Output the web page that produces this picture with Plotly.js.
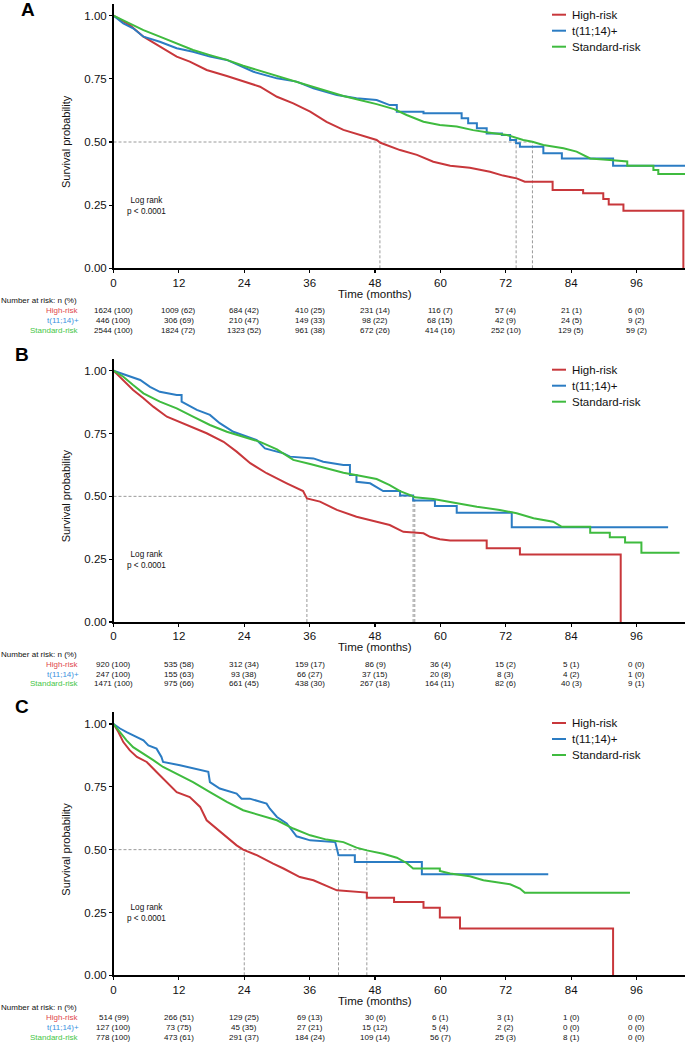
<!DOCTYPE html>
<html><head><meta charset="utf-8">
<script src="https://cdn.plot.ly/plotly-3.0.1.min.js"></script>
<style>html,body{margin:0;padding:0;background:#fff}#chart{width:685px;height:1043px}</style>
</head><body><div id="chart"></div>
<script>
// ---------------- DATA ----------------
const groups = ["High-risk", "t(11;14)+", "Standard-risk"];
const panelLetters = ["A", "B", "C"];
const timeTicks = [0, 12, 24, 36, 48, 60, 72, 84, 96];
const yTicks = [0, 0.25, 0.5, 0.75, 1];
const yTickText = ["0.00", "0.25", "0.50", "0.75", "1.00"];
const xTitle = "Time (months)";
const yTitle = "Survival probability";
const riskHeader = "Number at risk: n (%)";
const logRankText = "Log rank<br>p &lt; 0.0001";

// Panel A
const A_high_t = [0, 3.0, 5.5, 8.5, 11.6, 14.0, 17.1, 20.8, 23.8, 26.9, 30.0, 33.0, 36.1, 39.1, 42.2, 45.2, 48.3, 49.0, 52.6, 55.7, 58.7, 61.8, 65.4, 69.1, 71.5, 74.0, 75.5, 80.6, 80.6, 86.2, 86.2, 89.9, 89.9, 90.9, 90.9, 93.6, 93.6, 104.6, 104.6];
const A_high_s = [1.0, 0.963, 0.917, 0.877, 0.838, 0.818, 0.785, 0.761, 0.739, 0.719, 0.679, 0.653, 0.620, 0.580, 0.548, 0.528, 0.508, 0.497, 0.468, 0.449, 0.422, 0.406, 0.398, 0.382, 0.367, 0.356, 0.343, 0.343, 0.310, 0.310, 0.297, 0.297, 0.274, 0.274, 0.253, 0.253, 0.228, 0.228, 0];
const A_t1114_t = [0, 1.8, 3.6, 5.5, 8.5, 11.6, 14.6, 17.7, 20.8, 23.8, 25.7, 30.0, 33.6, 36.7, 41.0, 44.6, 48.3, 50.7, 52.0, 52.0, 56.9, 56.9, 63.9, 63.9, 65.1, 65.1, 66.7, 66.7, 68.5, 68.5, 71.3, 71.3, 72.8, 72.8, 73.9, 73.9, 74.6, 74.6, 78.9, 78.9, 82.3, 82.3, 91.7, 91.7, 104.9];
const A_t1114_s = [1.0, 0.970, 0.950, 0.917, 0.897, 0.871, 0.857, 0.838, 0.825, 0.798, 0.778, 0.752, 0.739, 0.713, 0.686, 0.673, 0.666, 0.646, 0.646, 0.620, 0.620, 0.614, 0.614, 0.594, 0.594, 0.574, 0.574, 0.554, 0.554, 0.534, 0.534, 0.528, 0.528, 0.508, 0.508, 0.495, 0.495, 0.481, 0.481, 0.455, 0.455, 0.435, 0.435, 0.406, 0.406];
const A_std_t = [0, 2.4, 5.5, 8.5, 11.6, 14.6, 17.7, 20.8, 23.8, 26.9, 30.0, 33.0, 36.1, 39.1, 42.2, 45.2, 48.3, 51.5, 53.8, 56.9, 59.9, 63.0, 66.0, 69.1, 72.2, 75.2, 76.9, 78.9, 82.6, 85.0, 87.5, 91.1, 94.3, 94.3, 99.1, 99.1, 100.0, 100.0, 104.9];
const A_std_s = [1.0, 0.976, 0.943, 0.917, 0.891, 0.864, 0.844, 0.825, 0.802, 0.782, 0.761, 0.743, 0.722, 0.703, 0.682, 0.666, 0.650, 0.630, 0.607, 0.580, 0.567, 0.561, 0.547, 0.537, 0.528, 0.508, 0.501, 0.488, 0.475, 0.462, 0.435, 0.429, 0.423, 0.406, 0.406, 0.389, 0.389, 0.373, 0.373];
const A_median = [48.9, 73.9, 76.9];
const A_high_n = [1624, 1009, 684, 410, 231, 116, 57, 21, 6];
const A_high_pct = [100, 62, 42, 25, 14, 7, 4, 1, 0];
const A_t1114_n = [446, 306, 210, 149, 98, 68, 42, 24, 9];
const A_t1114_pct = [100, 69, 47, 33, 22, 15, 9, 5, 2];
const A_std_n = [2544, 1824, 1323, 961, 672, 414, 252, 129, 59];
const A_std_pct = [100, 72, 52, 38, 26, 16, 10, 5, 2];

// Panel B
const B_high_t = [0, 1.8, 3.6, 5.5, 7.3, 9.8, 13.4, 17.1, 20.2, 22.6, 25.1, 28.1, 31.8, 34.8, 35.5, 37.9, 41.0, 44.6, 48.3, 50.7, 53.2, 56.9, 58.1, 59.9, 61.8, 68.5, 68.5, 74.6, 74.6, 93.1, 93.1];
const B_high_s = [1.0, 0.963, 0.923, 0.890, 0.857, 0.817, 0.784, 0.751, 0.717, 0.678, 0.632, 0.592, 0.552, 0.521, 0.492, 0.479, 0.446, 0.419, 0.399, 0.386, 0.359, 0.353, 0.339, 0.329, 0.324, 0.324, 0.293, 0.293, 0.269, 0.269, 0];
const B_t1114_t = [0, 2.4, 4.9, 6.7, 8.5, 11.6, 12.5, 12.5, 15.3, 17.7, 19.5, 22.0, 24.4, 26.3, 27.8, 31.2, 32.4, 36.7, 38.5, 42.2, 43.4, 43.4, 44.6, 44.6, 47.1, 49.5, 52.6, 52.6, 55.0, 55.0, 59.0, 59.0, 63.0, 63.0, 73.1, 73.1, 101.8];
const B_t1114_s = [1.0, 0.983, 0.963, 0.936, 0.916, 0.903, 0.903, 0.877, 0.844, 0.824, 0.791, 0.757, 0.737, 0.724, 0.691, 0.671, 0.658, 0.651, 0.638, 0.625, 0.625, 0.585, 0.585, 0.558, 0.552, 0.521, 0.521, 0.503, 0.503, 0.483, 0.483, 0.462, 0.462, 0.435, 0.435, 0.377, 0.377];
const B_std_t = [0, 1.8, 3.6, 5.5, 8.5, 11.6, 14.6, 17.7, 20.8, 23.8, 26.9, 30.0, 33.0, 36.1, 39.1, 42.2, 45.2, 48.3, 50.7, 52.6, 54.7, 55.3, 58.7, 63.0, 66.7, 70.9, 74.0, 77.1, 80.7, 82.3, 87.5, 87.5, 91.1, 91.1, 93.9, 93.9, 96.9, 96.9, 103.9];
const B_std_s = [1.0, 0.976, 0.943, 0.910, 0.877, 0.850, 0.817, 0.784, 0.757, 0.737, 0.717, 0.687, 0.645, 0.629, 0.612, 0.594, 0.582, 0.569, 0.545, 0.521, 0.503, 0.496, 0.489, 0.472, 0.459, 0.446, 0.433, 0.413, 0.399, 0.379, 0.379, 0.355, 0.355, 0.337, 0.337, 0.316, 0.316, 0.276, 0.276];
const B_median = [35.5, 55.0, 55.3];
const B_high_n = [920, 535, 312, 159, 86, 36, 15, 5, 0];
const B_high_pct = [100, 58, 34, 17, 9, 4, 2, 1, 0];
const B_t1114_n = [247, 155, 93, 66, 37, 20, 8, 4, 1];
const B_t1114_pct = [100, 63, 38, 27, 15, 8, 3, 2, 0];
const B_std_n = [1471, 975, 661, 438, 267, 164, 82, 40, 9];
const B_std_pct = [100, 66, 45, 30, 18, 11, 6, 3, 1];

// Panel C
const C_high_t = [0, 0.9, 1.8, 3.0, 4.3, 6.1, 7.9, 9.8, 11.6, 14.0, 15.9, 17.1, 18.9, 20.8, 22.6, 23.8, 26.3, 29.3, 31.2, 34.2, 36.7, 41.0, 46.5, 46.5, 51.5, 51.5, 56.9, 56.9, 59.9, 59.9, 63.6, 63.6, 91.7, 91.7];
const C_high_s = [1.0, 0.968, 0.928, 0.895, 0.869, 0.849, 0.809, 0.769, 0.729, 0.709, 0.670, 0.617, 0.584, 0.550, 0.517, 0.500, 0.478, 0.444, 0.425, 0.391, 0.378, 0.338, 0.329, 0.309, 0.309, 0.292, 0.292, 0.269, 0.269, 0.230, 0.230, 0.186, 0.186, 0];
const C_t1114_t = [0, 1.2, 2.4, 3.6, 5.5, 6.4, 7.9, 8.8, 9.1, 12.2, 15.3, 17.4, 17.7, 19.5, 22.6, 23.5, 25.0, 28.1, 28.7, 30.0, 31.8, 32.7, 33.6, 36.1, 40.7, 41.3, 44.3, 44.3, 56.6, 56.6, 79.8];
const C_t1114_s = [1.0, 0.982, 0.968, 0.955, 0.935, 0.915, 0.902, 0.869, 0.849, 0.836, 0.822, 0.810, 0.769, 0.743, 0.723, 0.703, 0.703, 0.683, 0.663, 0.630, 0.604, 0.577, 0.553, 0.537, 0.530, 0.478, 0.478, 0.451, 0.451, 0.402, 0.402];
const C_std_t = [0, 1.2, 2.4, 3.6, 5.5, 7.3, 9.1, 11.6, 14.6, 17.7, 20.8, 23.8, 26.9, 30.0, 33.0, 36.1, 39.1, 42.2, 44.6, 46.5, 49.5, 52.0, 53.8, 55.0, 59.9, 59.9, 61.8, 65.4, 67.9, 72.8, 74.6, 75.5, 94.8];
const C_std_s = [1.0, 0.968, 0.935, 0.908, 0.882, 0.856, 0.829, 0.803, 0.769, 0.729, 0.690, 0.657, 0.637, 0.617, 0.584, 0.557, 0.540, 0.530, 0.508, 0.497, 0.484, 0.468, 0.447, 0.425, 0.425, 0.415, 0.405, 0.394, 0.378, 0.362, 0.345, 0.328, 0.328];
const C_median = [24.0, 41.3, 46.5];
const C_high_n = [514, 266, 129, 69, 30, 6, 3, 1, 0];
const C_high_pct = [99, 51, 25, 13, 6, 1, 1, 0, 0];
const C_t1114_n = [127, 73, 45, 27, 15, 5, 2, 0, 0];
const C_t1114_pct = [100, 75, 35, 21, 12, 4, 2, 0, 0];
const C_std_n = [778, 473, 291, 184, 109, 56, 25, 8, 0];
const C_std_pct = [100, 61, 37, 24, 14, 7, 3, 1, 0];

// ---------------- STYLE / GEOMETRY ----------------
const W = 685, H = 1043;
const FONT = "Liberation Sans, Arial, Helvetica, sans-serif";
const lineColors = ["#c8373b", "#2b7cc3", "#3fbb3f"];
const labelColors = ["#e0474c", "#3a93e0", "#46c646"];
const xLeftPx = 113.5, pxPerMonth = 5.448;
const xMax = (W - xLeftPx) / pxPerMonth;
const zeroPx = [268.3, 622, 975.3];
const unitPx = [252.6, 251.3, 251.3];
const yTop = 1.046;
const letterPos = [[28, 9], [22, 354], [22, 706]];

const panelData = [
  {curves: [[A_high_t, A_high_s], [A_t1114_t, A_t1114_s], [A_std_t, A_std_s]], median: A_median,
   risk: [[A_high_n, A_high_pct], [A_t1114_n, A_t1114_pct], [A_std_n, A_std_pct]]},
  {curves: [[B_high_t, B_high_s], [B_t1114_t, B_t1114_s], [B_std_t, B_std_s]], median: B_median,
   risk: [[B_high_n, B_high_pct], [B_t1114_n, B_t1114_pct], [B_std_n, B_std_pct]]},
  {curves: [[C_high_t, C_high_s], [C_t1114_t, C_t1114_s], [C_std_t, C_std_s]], median: C_median,
   risk: [[C_high_n, C_high_pct], [C_t1114_n, C_t1114_pct], [C_std_n, C_std_pct]]}
];

const py = p => 1 - p / H;
const pxx = p => p / W;

const traces = [];
const annotations = [];
const shapes = [];
const layout = {
  width: W, height: H, autosize: false,
  margin: {l: 0, r: 0, t: 0, b: 0, pad: 0},
  paper_bgcolor: "#ffffff", plot_bgcolor: "#ffffff",
  showlegend: false,
  font: {family: FONT, size: 11.5, color: "#111"},
  annotations: annotations, shapes: shapes
};

panelData.forEach((pd, i) => {
  const sfx = i === 0 ? "" : String(i + 1);
  const xa = "x" + sfx, ya = "y" + sfx;
  const z = zeroPx[i], u = unitPx[i];
  const topPx = z - yTop * u;

  layout["xaxis" + sfx] = {
    domain: [xLeftPx / W, 1], range: [0, xMax], anchor: ya,
    showline: true, linecolor: "#000", linewidth: 1.5, mirror: false,
    ticks: "outside", ticklen: 3, tickwidth: 1.2, tickcolor: "#000",
    tickvals: timeTicks, ticktext: timeTicks.map(String),
    tickfont: {family: FONT, size: 11.5, color: "#111"},
    showgrid: false, zeroline: false, fixedrange: true
  };
  layout["yaxis" + sfx] = {
    domain: [py(z), py(topPx)], range: [0, yTop], anchor: xa,
    showline: true, linecolor: "#000", linewidth: 1.5,
    ticks: "outside", ticklen: 3, tickwidth: 1.2, tickcolor: "#000",
    tickvals: yTicks, ticktext: yTickText,
    tickfont: {family: FONT, size: 11.5, color: "#111"},
    showgrid: false, zeroline: false, fixedrange: true
  };

  // median reference lines
  const mMax = Math.max(...pd.median);
  const dashStyle = {color: "#9a9a9a", width: 1, dash: "3px,2px"};
  traces.push({x: [0, mMax], y: [0.5, 0.5], xaxis: xa, yaxis: ya, mode: "lines",
    line: dashStyle, hoverinfo: "skip", showlegend: false});
  pd.median.forEach(m => {
    traces.push({x: [m, m], y: [0, 0.5], xaxis: xa, yaxis: ya, mode: "lines",
      line: dashStyle, hoverinfo: "skip", showlegend: false});
  });

  // survival curves
  pd.curves.forEach((c, g) => {
    traces.push({x: c[0], y: c[1], xaxis: xa, yaxis: ya, mode: "lines", name: groups[g],
      line: {color: lineColors[g], width: 2, shape: "linear"}, hoverinfo: "skip", showlegend: false});
  });

  // panel letter
  annotations.push({text: "<b>" + panelLetters[i] + "</b>", xref: "paper", yref: "paper",
    x: pxx(letterPos[i][0]), y: py(letterPos[i][1]), xanchor: "center", yanchor: "middle",
    showarrow: false, font: {family: FONT, size: 19, color: "#000"}});
  // y title
  annotations.push({text: yTitle, xref: "paper", yref: "paper", x: pxx(66), y: py(z - 0.5 * u),
    textangle: -90, xanchor: "center", yanchor: "middle", showarrow: false,
    font: {family: FONT, size: 11, color: "#111"}});
  // x title
  annotations.push({text: xTitle, xref: "paper", yref: "paper", x: pxx(375), y: py(z + 25.2),
    xanchor: "center", yanchor: "middle", showarrow: false, borderpad: 0,
    font: {family: FONT, size: 11.5, color: "#111"}});
  // log rank
  annotations.push({text: logRankText, xref: "paper", yref: ya, x: pxx(146), y: 0.248,
    xanchor: "center", yanchor: "middle", showarrow: false, align: "center",
    font: {family: FONT, size: 8.2, color: "#111"}});

  // legend (drawn manually)
  const legTop = z - u * 1.0 - 1;
  groups.forEach((gname, g) => {
    const ly = legTop + 16 * g;
    shapes.push({type: "line", xref: "paper", yref: "paper", x0: pxx(552), x1: pxx(566),
      y0: py(ly), y1: py(ly), line: {color: lineColors[g], width: 2}});
    annotations.push({text: gname, xref: "paper", yref: "paper", x: pxx(570), y: py(ly),
      xanchor: "left", yanchor: "middle", showarrow: false,
      font: {family: FONT, size: 11.5, color: "#111"}});
  });

  // risk table
  annotations.push({text: riskHeader, xref: "paper", yref: "paper", x: 0, y: py(z + 32.5),
    xanchor: "left", yanchor: "middle", showarrow: false, borderpad: 0,
    font: {family: FONT, size: 8, color: "#111"}});
  pd.risk.forEach((r, g) => {
    const ry = z + 42.5 + 9.6 * g;
    annotations.push({text: groups[g], xref: "paper", yref: "paper", x: pxx(79.5), y: py(ry),
      xanchor: "right", yanchor: "middle", showarrow: false, borderpad: 0,
      font: {family: FONT, size: 8, color: labelColors[g]}});
    timeTicks.forEach((t, k) => {
      annotations.push({text: r[0][k] + " (" + r[1][k] + ")", xref: xa, yref: "paper", x: t, y: py(ry),
        xanchor: "center", yanchor: "middle", showarrow: false, borderpad: 0,
        font: {family: FONT, size: 8, color: "#111"}});
    });
  });
});

Plotly.newPlot("chart", traces, layout, {staticPlot: true, displayModeBar: false});
</script>
</body></html>
